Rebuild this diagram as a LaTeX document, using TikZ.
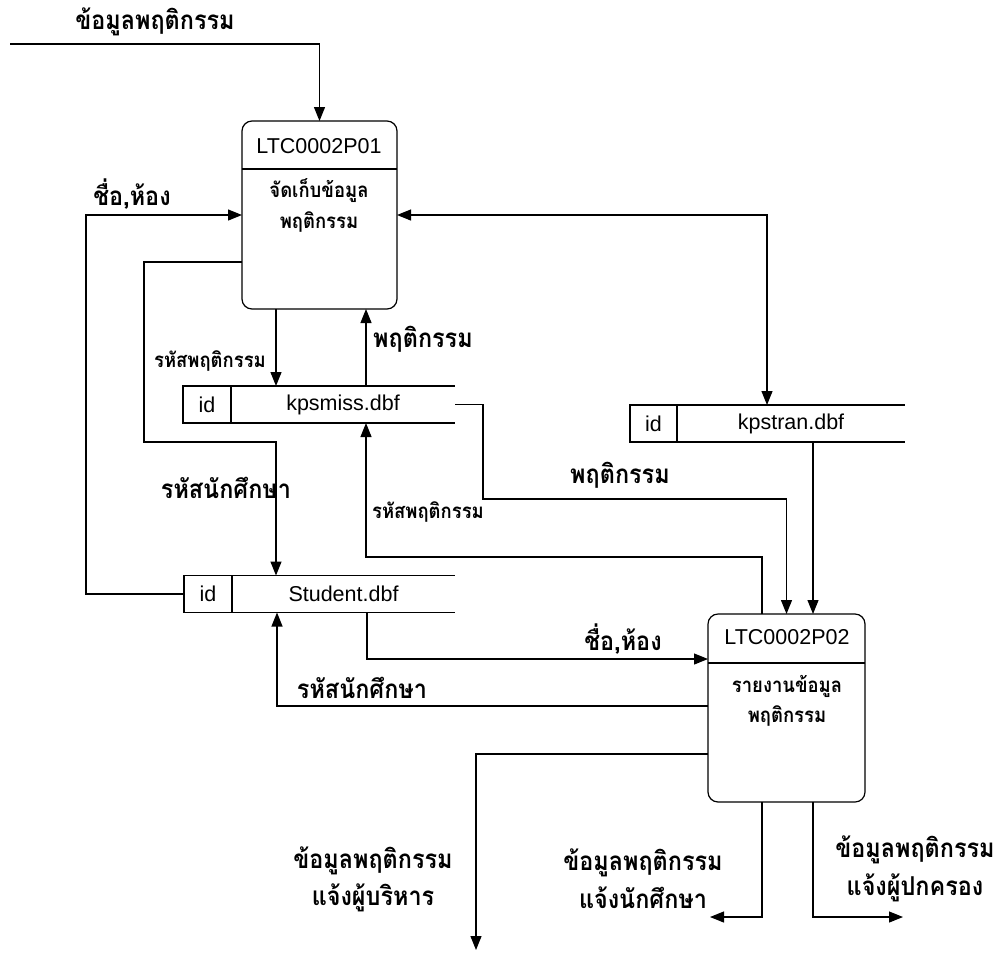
\documentclass[tikz,border=0pt]{standalone}
\usepackage{fontspec}
\setmainfont{Liberation Sans}
\newfontfamily\thai[Script=Thai,FakeStretch=0.9]{Loma}
\usetikzlibrary{arrows.meta}
\begin{document}
\begin{tikzpicture}[x=1pt,y=-1pt,line width=1.2pt,
  >={Triangle[length=14pt,width=11pt]},
  proc/.style={draw,rounded corners=10pt,inner sep=0,outer sep=0},
  sid/.style={draw,inner sep=0,outer sep=0,minimum width=48pt,minimum height=37pt,font=\fontsize{21.5}{25}\selectfont},
  sname/.style={inner sep=0,outer sep=0,minimum height=37pt,anchor=west,font=\fontsize{21.5}{25}\selectfont},
  lat/.style={inner sep=0,anchor=base,font=\fontsize{21.5}{25}\selectfont},
  lbl/.style={inner sep=0,anchor=base,font=\thai\bfseries\fontsize{26}{30}\selectfont},
  slbl/.style={inner sep=0,anchor=base,font=\thai\bfseries\fontsize{20.5}{25}\selectfont}]
\useasboundingbox (0,0) rectangle (993,962);
% processes
\node[proc,minimum width=155pt,minimum height=188pt] (P01) at (319.5,215) {};
\node[proc,minimum width=157pt,minimum height=188pt] (P02) at (786.5,708) {};
\coordinate (d1) at (0,169);
\coordinate (d2) at (0,663);
\draw (P01.west |- d1) -- (P01.east |- d1);
\draw (P02.west |- d2) -- (P02.east |- d2);
\node[lat] (t1) at (319,153) {LTC0002P01};
\node[slbl] (t1a) at (319,197) {จัดเก็บข้อมูล};
\node[slbl] (t1b) at (319,228) {พฤติกรรม};
\node[lat] (t2) at (787,644) {LTC0002P02};
\node[slbl] (t2a) at (787,692) {รายงานข้อมูล};
\node[slbl] (t2b) at (787,722) {พฤติกรรม};
% data stores
\node[sid] (kpsI) at (207,404.5) {id};
\node[sname,minimum width=224pt] (kpsN) at (kpsI.east) {kpsmiss.dbf};
\draw (kpsI.north east) -- (kpsN.north east) (kpsI.south east) -- (kpsN.south east);
\node[sid] (stuI) at (208,594) {id};
\node[sname,minimum width=223pt] (stuN) at (stuI.east) {Student.dbf};
\draw (stuI.north east) -- (stuN.north east) (stuI.south east) -- (stuN.south east);
\node[sid,minimum width=47pt] (trI) at (653.5,423.5) {id};
\node[sname,minimum width=228pt] (trN) at (trI.east) {kpstran.dbf};
\draw (trI.north east) -- (trN.north east) (trI.south east) -- (trN.south east);
% connectors
\coordinate (inTop) at (10,44);
\draw[->] (inTop) -| (P01.north);
\node[lbl] (l1) at (155,29) {ข้อมูลพฤติกรรม};

\draw[->] (stuI.west) -- (86,594) |- (P01.west);
\node[lbl] (l2) at (132,205) {ชื่อ,ห้อง};

\draw[->] ([yshift=-47pt]P01.west) -- (144,262) -- (144,442) -| ([xshift=44pt]stuN.north west);
\node[lbl] (l3) at (226,498) {รหัสนักศึกษา};

\draw[->] ([xshift=-43.5pt]P01.south) -- ([xshift=-43.5pt]P01.south |- kpsN.north);
\node[slbl] (l4) at (210,367) {รหัสพฤติกรรม};

\draw[->] ([xshift=135pt]kpsN.north west) -- ([xshift=135pt]kpsN.north west |- P01.south);
\node[lbl] (l5) at (423,347) {พฤติกรรม};

\draw[<->] (P01.east) -| ([xshift=90pt]trN.north west);

\draw[->] (kpsN.east) -- (483,404.5) -- (483,499) -| (P02.north);
\node[lbl] (l6) at (620,483) {พฤติกรรม};

\draw[->] ([xshift=136pt]trN.south west) -- ([xshift=136pt]trN.south west |- P02.north);

\coordinate (r1) at (366,557);
\draw[->] ([xshift=-24.5pt]P02.north) |- (r1) -- ([xshift=135pt]kpsN.south west);
\node[slbl] (l7) at (428,518) {รหัสพฤติกรรม};

\draw[->] ([xshift=135pt]stuN.south west) |- ([yshift=49pt]P02.west);
\node[lbl] (l8) at (623,650) {ชื่อ,ห้อง};

\draw[->] ([yshift=2pt]P02.west) -| ([xshift=45pt]stuN.south west);
\node[lbl] (l9) at (362,698) {รหัสนักศึกษา};

\coordinate (outA) at (476,950);
\coordinate (outB) at (710,917);
\coordinate (outC) at (903,917);
\draw[->] ([yshift=-46pt]P02.west) -| (outA);
\draw[->] ([xshift=-24.5pt]P02.south) |- (outB);
\draw[->] ([xshift=26.5pt]P02.south) |- (outC);
\node[lbl] (l10a) at (373,868) {ข้อมูลพฤติกรรม};
\node[lbl] (l10b) at (373,905) {แจ้งผู้บริหาร};
\node[lbl] (l11a) at (643,870) {ข้อมูลพฤติกรรม};
\node[lbl] (l11b) at (643,908) {แจ้งนักศึกษา};
\node[lbl] (l12a) at (915,857) {ข้อมูลพฤติกรรม};
\node[lbl] (l12b) at (915,895) {แจ้งผู้ปกครอง};
\end{tikzpicture}
\end{document}
